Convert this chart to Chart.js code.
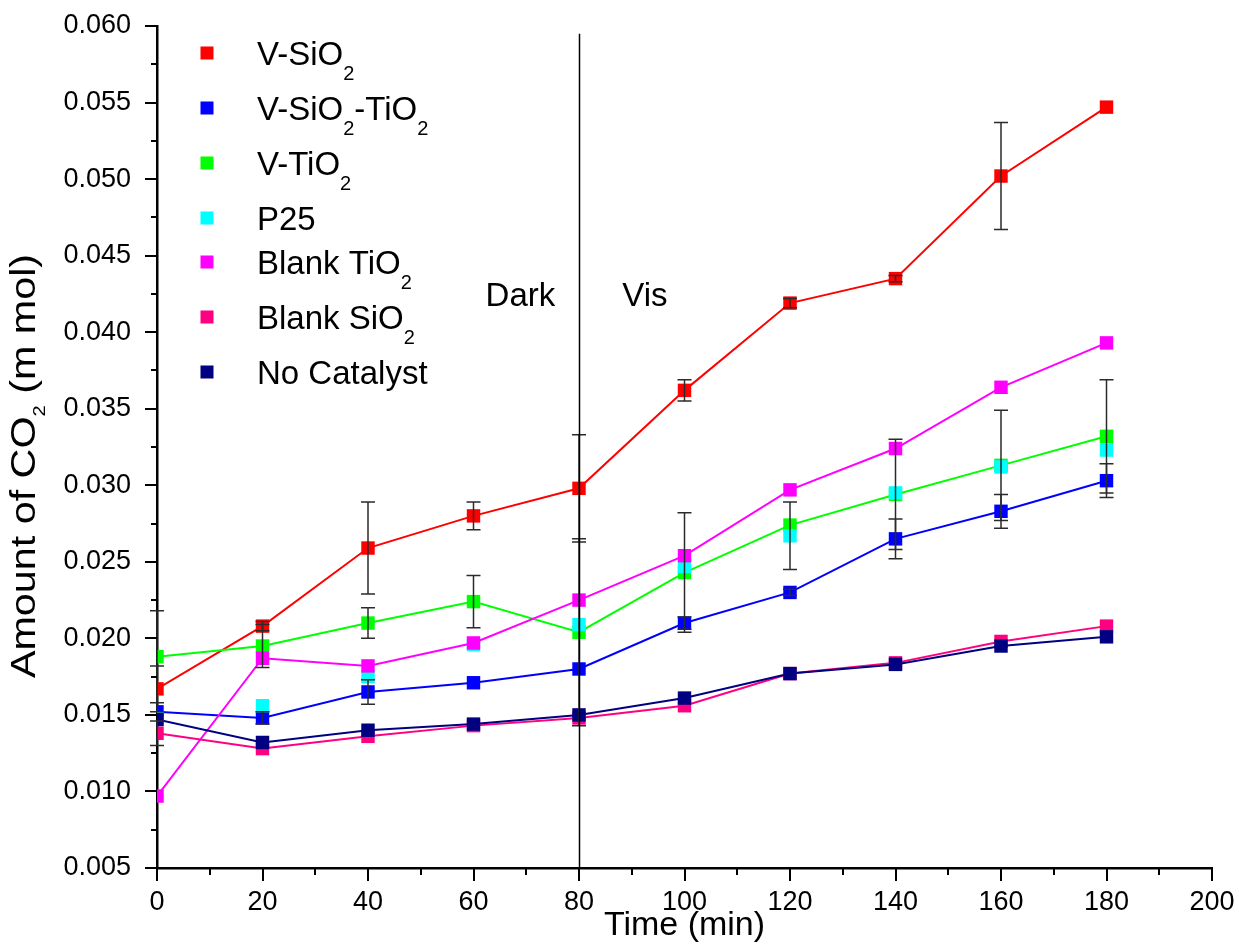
<!DOCTYPE html>
<html>
<head>
<meta charset="utf-8">
<title>Amount of CO2 vs time</title>
<script src="https://cdn.jsdelivr.net/npm/chart.js@4.4.0/dist/chart.umd.min.js"></script>
<style>
  html, body { margin: 0; padding: 0; background: #fff; }
  canvas { display: block; }
</style>
</head>
<body>
<canvas id="co2Chart" width="1239" height="944"></canvas>
<script>
// Sampling times (min)
const times = [0, 20, 40, 60, 80, 100, 120, 140, 160, 180];

// Series names (₂ is drawn as a subscript)
const seriesNames = ['V-SiO₂', 'V-SiO₂-TiO₂', 'V-TiO₂', 'P25', 'Blank TiO₂', 'Blank SiO₂', 'No Catalyst'];

// Amount of CO2 (m mol) per series
const vSiO2      = [0.0167, 0.0208, 0.0259, 0.0280, 0.0298, 0.0362, 0.0419, 0.0435, 0.0502, 0.0547];
const vSiO2TiO2  = [0.0152, 0.0148, 0.0165, 0.0171, 0.0180, 0.0210, 0.0230, 0.0265, 0.0283, 0.0303];
const vTiO2      = [0.0188, 0.0195, 0.0210, 0.0224, 0.0204, 0.0243, 0.0274, 0.0294, 0.0313, 0.0332];
const p25        = [0.0148, 0.0156, 0.0175, 0.0196, 0.0209, 0.0247, 0.0267, 0.0295, 0.0312, 0.0323];
const blankTiO2  = [0.0097, 0.0187, 0.0182, 0.0197, 0.0225, 0.0254, 0.0297, 0.0324, 0.0364, 0.0393];
const blankSiO2  = [0.0138, 0.0128, 0.0136, 0.0143, 0.0148, 0.0156, 0.0177, 0.0184, 0.0198, 0.0208];
const noCatalyst = [0.0147, 0.0132, 0.0140, 0.0144, 0.0150, 0.0161, 0.0177, 0.0183, 0.0195, 0.0201];

// Error bar half-heights (0 = no bar)
const errVSiO2      = [0.0015, 0.0003, 0.0030, 0.0009, 0.0035, 0.0007, 0.0003, 0.0002, 0.0035, 0];
const errVSiO2TiO2  = [0, 0.0004, 0.0008, 0, 0, 0.0004, 0.0002, 0.0013, 0.0011, 0.0011];
const errVTiO2      = [0.0030, 0.0014, 0.0010, 0.0017, 0.0061, 0.0039, 0, 0.0036, 0.0036, 0.0037];
const errP25        = [0, 0, 0, 0, 0, 0, 0.0022, 0, 0, 0];
const errBlankSiO2  = [0.0008, 0, 0, 0, 0, 0, 0, 0, 0, 0];

// Dark / visible-light switch time (min)
const lightOnTime = 80;

const FONT = '"Liberation Sans", Arial, Helvetica, sans-serif';

function points(values) {
  return values.map((v, i) => ({ x: times[i], y: v }));
}

function series(idx, values, color, errors, showLine = true) {
  return {
    label: seriesNames[idx],
    data: points(values),
    errors: errors || null,
    borderColor: color,
    backgroundColor: color,
    borderWidth: 2,
    showLine: showLine,
    tension: 0,
    pointStyle: 'rect',
    pointRadius: 9.5,
    pointBorderWidth: 0,
    pointBackgroundColor: color,
    order: seriesNames.length - 1 - idx   // later series on top
  };
}

const datasets = [
  series(0, vSiO2, '#ff0000', errVSiO2),
  series(1, vSiO2TiO2, '#0000ff', errVSiO2TiO2),
  series(2, vTiO2, '#00ff00', errVTiO2),
  series(3, p25, '#00ffff', errP25, false),
  series(4, blankTiO2, '#ff00ff'),
  series(5, blankSiO2, '#ff0080', errBlankSiO2),
  series(6, noCatalyst, '#000080')
];

// Draws text, turning every '₂' into a smaller lowered '2'
function drawSubText(ctx, text, x, y, size, subSize, subDrop, align) {
  const parts = text.split('₂');
  const segs = [];
  parts.forEach((p, i) => {
    if (p) segs.push({ t: p, sub: false });
    if (i < parts.length - 1) segs.push({ t: '2', sub: true });
  });
  let total = 0;
  segs.forEach(s => {
    ctx.font = `${s.sub ? subSize : size}px ${FONT}`;
    s.w = ctx.measureText(s.t).width;
    total += s.w;
  });
  let cx = align === 'center' ? x - total / 2 : align === 'right' ? x - total : x;
  ctx.textAlign = 'left';
  ctx.textBaseline = 'alphabetic';
  segs.forEach(s => {
    ctx.font = `${s.sub ? subSize : size}px ${FONT}`;
    ctx.fillText(s.t, cx, s.sub ? y + subDrop : y);
    cx += s.w;
  });
}

// Major/minor tick marks on both axes (pointing outward)
const tickMarks = {
  id: 'tickMarks',
  afterDraw(chart) {
    const { ctx, scales: { x, y } } = chart;
    ctx.save();
    ctx.strokeStyle = '#000';
    ctx.lineWidth = 2;
    ctx.beginPath();
    for (let v = x.min; v <= x.max + 1e-9; v += 10) {
      const px = Math.round(x.getPixelForValue(v));
      const len = (Math.round(v) % 20 === 0) ? 13 : 7;
      ctx.moveTo(px, y.bottom);
      ctx.lineTo(px, y.bottom + len);
    }
    for (let k = 0; k <= 22; k++) {
      const v = y.min + k * 0.0025;
      const py = Math.round(y.getPixelForValue(v));
      const len = (k % 2 === 0) ? 12 : 6;
      ctx.moveTo(x.left, py);
      ctx.lineTo(x.left - len, py);
    }
    ctx.stroke();
    ctx.restore();
  }
};

// Vertical error bars with caps
const errorBars = {
  id: 'errorBars',
  afterDatasetsDraw(chart) {
    const { ctx, scales: { y } } = chart;
    ctx.save();
    ctx.strokeStyle = '#2b2b2b';
    ctx.lineWidth = 1.5;
    chart.data.datasets.forEach((ds, di) => {
      if (!ds.errors) return;
      const meta = chart.getDatasetMeta(di);
      meta.data.forEach((pt, i) => {
        const e = ds.errors[i];
        if (!e) return;
        const v = ds.data[i].y;
        const top = y.getPixelForValue(v + e);
        const bot = y.getPixelForValue(v - e);
        ctx.beginPath();
        ctx.moveTo(pt.x, top); ctx.lineTo(pt.x, bot);
        ctx.moveTo(pt.x - 7, top); ctx.lineTo(pt.x + 7, top);
        ctx.moveTo(pt.x - 7, bot); ctx.lineTo(pt.x + 7, bot);
        ctx.stroke();
      });
    });
    ctx.restore();
  }
};

// Dark / Vis divider line and its labels
const lightDivider = {
  id: 'lightDivider',
  afterDatasetsDraw(chart) {
    const { ctx, scales: { x, y } } = chart;
    const px = Math.round(x.getPixelForValue(lightOnTime)) + 0.5;
    ctx.save();
    ctx.strokeStyle = '#000';
    ctx.lineWidth = 1.5;
    ctx.beginPath();
    ctx.moveTo(px, y.getPixelForValue(0.0595));
    ctx.lineTo(px, y.bottom);
    ctx.stroke();
    ctx.fillStyle = '#000';
    ctx.font = `33px ${FONT}`;
    ctx.textBaseline = 'alphabetic';
    const base = y.getPixelForValue(0.0417);
    ctx.textAlign = 'right';
    ctx.fillText('Dark', x.getPixelForValue(lightOnTime - 4.5), base);
    ctx.textAlign = 'left';
    ctx.fillText('Vis', x.getPixelForValue(lightOnTime + 8.2), base);
    ctx.restore();
  }
};

// Axis titles and legend
const labels = {
  id: 'labels',
  afterDraw(chart) {
    const { ctx, chartArea } = chart;
    ctx.save();
    ctx.fillStyle = '#000';

    // x title
    ctx.font = `34px ${FONT}`;
    ctx.textAlign = 'center';
    ctx.textBaseline = 'alphabetic';
    ctx.fillText('Time (min)', (chartArea.left + chartArea.right) / 2, 935);

    // y title, rotated and slightly stretched along its length
    ctx.save();
    ctx.translate(35, 466);
    ctx.rotate(-Math.PI / 2);
    ctx.scale(1.18, 1);
    drawSubText(ctx, 'Amount of CO₂ (m mol)', 0, 0, 35, 17, 10, 'center');
    ctx.restore();

    // legend
    let rowY = 53;
    chart.data.datasets.forEach(ds => {
      ctx.fillStyle = ds.backgroundColor;
      ctx.fillRect(207 - 6.5, rowY - 6.5, 13, 13);
      ctx.fillStyle = '#000';
      drawSubText(ctx, ds.label, 257, rowY + 12, 33, 20, 15, 'left');
      rowY += ds.label.includes('₂') ? 55 : 44;
    });
    ctx.restore();
  }
};

new Chart(document.getElementById('co2Chart'), {
  type: 'line',
  data: { datasets: datasets },
  options: {
    responsive: false,
    animation: false,
    devicePixelRatio: 1,
    layout: { padding: { top: 26, right: 27, left: 0, bottom: 0 } },
    plugins: {
      legend: { display: false },
      tooltip: { enabled: false }
    },
    scales: {
      x: {
        type: 'linear',
        min: 0,
        max: 200,
        ticks: {
          stepSize: 20,
          autoSkip: false,
          maxRotation: 0,
          padding: 18,
          color: '#000',
          font: { family: FONT, size: 27 }
        },
        grid: { display: false, drawTicks: false },
        border: { display: true, color: '#000', width: 2.5 },
        afterFit(scale) {
          scale.height = 76;
          scale.paddingLeft = 0;
          scale.paddingRight = 0;
        }
      },
      y: {
        type: 'linear',
        min: 0.005,
        max: 0.060,
        ticks: {
          stepSize: 0.005,
          autoSkip: false,
          padding: 26,
          color: '#000',
          font: { family: FONT, size: 27 },
          callback: (value) => value.toFixed(3)
        },
        grid: { display: false, drawTicks: false },
        border: { display: true, color: '#000', width: 2.5 },
        afterFit(scale) {
          scale.width = 157;
          scale.paddingTop = 0;
          scale.paddingBottom = 0;
        }
      }
    }
  },
  plugins: [tickMarks, errorBars, lightDivider, labels]
});
</script>
</body>
</html>
